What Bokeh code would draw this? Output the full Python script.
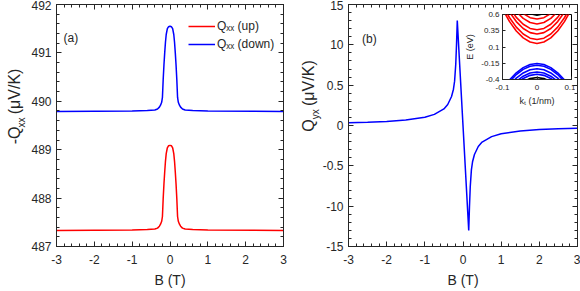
import math
from bokeh.plotting import figure
from bokeh.models import (Range1d, LinearAxis, Label, Legend, LegendItem,
                          FixedTicker, SingleIntervalTicker)
from bokeh.core.properties import value
from bokeh.layouts import row
from bokeh.embed import file_html
from bokeh.resources import INLINE

# ---------------- data ----------------
# panel (a): longitudinal coefficient vs B
B_xx = [-3.0, -1.0, -0.6, -0.4, -0.33, -0.28, -0.25, -0.22, -0.2, -0.18, -0.16,
        -0.14, -0.12, -0.1, -0.07, -0.04, 0.0, 0.04, 0.07, 0.1, 0.12, 0.14, 0.16,
        0.18, 0.2, 0.22, 0.25, 0.28, 0.33, 0.4, 0.6, 1.0, 3.0]
Q_down = [489.79, 489.80, 489.81, 489.82, 489.84, 489.88, 489.92, 489.98, 490.08,
          490.45, 490.75, 491.00, 491.22, 491.38, 491.50, 491.54, 491.55, 491.54,
          491.50, 491.38, 491.22, 491.00, 490.75, 490.45, 490.08, 489.98, 489.92,
          489.88, 489.84, 489.82, 489.81, 489.80, 489.79]
Q_up = [487.33, 487.34, 487.35, 487.36, 487.38, 487.42, 487.46, 487.52, 487.62,
        487.99, 488.29, 488.54, 488.76, 488.92, 489.04, 489.08, 489.09, 489.08,
        489.04, 488.92, 488.76, 488.54, 488.29, 487.99, 487.62, 487.52, 487.46,
        487.42, 487.38, 487.36, 487.35, 487.34, 487.33]
legend_labels = ["Q\u2093\u2093 (up)", "Q\u2093\u2093 (down)"]
B_ticks = [-3, -2, -1, 0, 1, 2, 3]
B_tick_labels = ["-3", "-2", "-1", "0", "1", "2", "3"]

# panel (b): transverse coefficient vs B
B_yx = [-3.0, -2.5, -2.0, -1.5, -1.0, -0.75, -0.5, -0.4, -0.3, -0.25, -0.22, -0.19,
        -0.17, -0.15, 0.0, 0.15, 0.17, 0.19, 0.22, 0.25, 0.3, 0.4, 0.5, 0.75, 1.0,
        1.5, 2.0, 2.5, 3.0]
Q_yx = [0.33, 0.40, 0.50, 0.68, 1.03, 1.38, 2.06, 2.6, 3.6, 4.5, 5.5, 7.6, 10.0,
        13.0, 0.0, -13.0, -10.0, -7.6, -5.5, -4.5, -3.6, -2.6, -2.06, -1.38, -1.03,
        -0.68, -0.50, -0.40, -0.33]
yx_ticks = [-15, -10, -5, 0, 5, 10, 15]
yx_tick_labels = ["-15", "-10", "-0.5", "0", "0.5", "10", "15"]

# inset: band structure E(k_t)
k_t = [-0.1, -0.08, -0.06, -0.04, -0.02, 0.0, 0.02, 0.04, 0.06, 0.08, 0.1]
cb1 = [0.685, 0.494, 0.346, 0.240, 0.176, 0.155, 0.176, 0.240, 0.346, 0.494, 0.685]
cb2 = [0.745, 0.554, 0.406, 0.300, 0.236, 0.215, 0.236, 0.300, 0.406, 0.554, 0.745]
cb3 = [0.830, 0.639, 0.491, 0.385, 0.321, 0.300, 0.321, 0.385, 0.491, 0.639, 0.830]
cb4 = [0.895, 0.704, 0.556, 0.450, 0.386, 0.365, 0.386, 0.450, 0.556, 0.704, 0.895]
cb5 = [0.985, 0.794, 0.646, 0.540, 0.476, 0.455, 0.476, 0.540, 0.646, 0.794, 0.985]
cb6 = [1.060, 0.869, 0.721, 0.615, 0.551, 0.530, 0.551, 0.615, 0.721, 0.869, 1.060]
cb_black = [1.120, 0.929, 0.781, 0.675, 0.611, 0.590, 0.611, 0.675, 0.781, 0.929, 1.120]
vb1 = [-0.553, -0.409, -0.297, -0.217, -0.169, -0.153, -0.169, -0.217, -0.297, -0.409, -0.553]
vb2 = [-0.580, -0.436, -0.324, -0.244, -0.196, -0.180, -0.196, -0.244, -0.324, -0.436, -0.580]
vb3 = [-0.635, -0.491, -0.379, -0.299, -0.251, -0.235, -0.251, -0.299, -0.379, -0.491, -0.635]
vb4 = [-0.685, -0.541, -0.429, -0.349, -0.301, -0.285, -0.301, -0.349, -0.429, -0.541, -0.685]
vb5 = [-0.720, -0.576, -0.464, -0.384, -0.336, -0.320, -0.336, -0.384, -0.464, -0.576, -0.720]
vb_black = [-0.770, -0.626, -0.514, -0.434, -0.386, -0.370, -0.386, -0.434, -0.514, -0.626, -0.770]
inset_xticks = [-0.1, 0.0, 0.1]
inset_xlabels = ["-0.1", "0", "0.1"]
inset_yticks = [-0.4, -0.15, 0.1, 0.35, 0.6]
inset_ylabels = ["-0.4", "-0.15", "0.1", "0.35", "0.6"]

# y-axis titles split into (text, font size) pieces: main / subscript / unit
ylabel_a = [("-Q", "16px"), ("xx", "10px"), ("(\u03bcV/K)", "16px")]
ylabel_b = [("Q", "16px"), ("yx", "10px"), ("(\u03bcV/K)", "16px")]

# ---------------- style helpers ----------------
FONT = "Liberation Sans"
TXT = "#262626"
AX = "#262626"
H = 291


def style_axis(ax, size="12px", standoff=5):
    ax.axis_line_color = AX
    ax.major_tick_line_color = AX
    ax.minor_tick_line_color = AX
    ax.major_tick_in = 5
    ax.major_tick_out = 0
    ax.minor_tick_in = 3
    ax.minor_tick_out = 0
    ax.major_label_text_font = FONT
    ax.major_label_text_font_size = size
    ax.major_label_text_color = TXT
    ax.major_label_standoff = standoff
    ax.axis_label_text_font = FONT
    ax.axis_label_text_font_style = "normal"
    ax.axis_label_text_color = TXT


def mirror_axes(p, xticker, yticker):
    top = LinearAxis(ticker=xticker)
    right = LinearAxis(ticker=yticker)
    for ax in (top, right):
        style_axis(ax, standoff=0)
        ax.major_label_text_color = None
    p.add_layout(top, "above")
    p.add_layout(right, "right")


def base_fig(xr, yr, left, right):
    p = figure(width=290, height=H, x_range=xr, y_range=yr,
               output_backend="svg", toolbar_location=None,
               min_border_left=left, min_border_right=right,
               min_border_top=4, min_border_bottom=45,
               background_fill_color="white", border_fill_color="white",
               outline_line_color=AX)
    p.xgrid.visible = False
    p.ygrid.visible = False
    return p


def title_strip(width, pieces, xs, ys, margin):
    """Transparent strip holding a rotated y-axis title with a subscript."""
    s = figure(width=width, height=H, x_range=Range1d(0, width),
               y_range=Range1d(H, 0), output_backend="svg",
               toolbar_location=None, x_axis_type=None, y_axis_type=None,
               min_border_left=0, min_border_right=0, min_border_top=0,
               min_border_bottom=0, background_fill_color=None,
               border_fill_color=None, outline_line_color=None, margin=margin)
    s.xgrid.visible = False
    s.ygrid.visible = False
    for (text, size), x, y in zip(pieces, xs, ys):
        s.text(x=[x], y=[y], text=[text], angle=math.pi / 2,
               text_align="left", text_baseline="alphabetic",
               text_font=value(FONT), text_font_size=value(size),
               text_color=TXT)
    return s


# ---------------- panel (a) ----------------
p1 = base_fig(Range1d(-3, 3), Range1d(487, 492), 56, 7)
xt1 = SingleIntervalTicker(interval=1, num_minor_ticks=5)
yt1 = SingleIntervalTicker(interval=1, num_minor_ticks=5)
p1.xaxis[0].ticker = xt1
p1.yaxis[0].ticker = yt1
p1.xaxis[0].major_label_overrides = dict(zip(B_ticks, B_tick_labels))
style_axis(p1.xaxis[0], standoff=8)
style_axis(p1.yaxis[0], standoff=5)
p1.xaxis[0].axis_label = "B (T)"
p1.xaxis[0].axis_label_text_font_size = "14px"
p1.xaxis[0].axis_label_standoff = 5
mirror_axes(p1, xt1, yt1)

r_up = p1.line(B_xx, Q_up, line_color="red", line_width=1.5)
r_dn = p1.line(B_xx, Q_down, line_color="blue", line_width=1.5)
leg = Legend(items=[LegendItem(label=legend_labels[0], renderers=[r_up]),
                    LegendItem(label=legend_labels[1], renderers=[r_dn])],
             location=(132, 195), padding=0, margin=0, spacing=4,
             glyph_width=27, glyph_height=14, label_height=14, label_standoff=2,
             label_text_font=FONT, label_text_font_size="12px",
             label_text_color=TXT, border_line_color=None,
             background_fill_alpha=0)
p1.add_layout(leg)
p1.add_layout(Label(x=-3, y=492, x_offset=7, y_offset=-33, text="(a)",
                    text_font=FONT, text_font_size="12px", text_color=TXT,
                    text_baseline="alphabetic"))

# ---------------- panel (b) ----------------
p2 = base_fig(Range1d(-3, 3), Range1d(-15, 15), 58, 3)
xt2 = SingleIntervalTicker(interval=1, num_minor_ticks=5)
yt2 = SingleIntervalTicker(interval=5, num_minor_ticks=5)
p2.xaxis[0].ticker = xt2
p2.yaxis[0].ticker = yt2
p2.xaxis[0].major_label_overrides = dict(zip(B_ticks, B_tick_labels))
p2.yaxis[0].major_label_overrides = dict(zip(yx_ticks, yx_tick_labels))
style_axis(p2.xaxis[0], standoff=8)
style_axis(p2.yaxis[0], standoff=5)
p2.xaxis[0].axis_label = "B (T)"
p2.xaxis[0].axis_label_text_font_size = "14px"
p2.xaxis[0].axis_label_standoff = 5
mirror_axes(p2, xt2, yt2)
p2.line(B_yx, Q_yx, line_color="blue", line_width=1.5)
p2.add_layout(Label(x=-3, y=15, x_offset=13.5, y_offset=-34, text="(b)",
                    text_font=FONT, text_font_size="12px", text_color=TXT,
                    text_baseline="alphabetic"))

# ---------------- y-axis titles (overlay strips) ----------------
# strip a spans x=0..56, strip b x=290..348 (row flow after p2 ends at 580)
ta = title_strip(56, ylabel_a, [14, 21, 14], [168, 148, 132], (0, 0, 0, -580))
tb = title_strip(58, ylabel_b, [18, 25, 18], [153, 138, 122], (0, 0, 0, 234))

# ---------------- inset ----------------
p3 = figure(width=113, height=114, x_range=Range1d(-0.1, 0.1),
            y_range=Range1d(-0.4, 0.6), output_backend="svg",
            toolbar_location=None, min_border_left=34, min_border_right=4,
            min_border_top=2, min_border_bottom=31,
            background_fill_color="white", border_fill_color=None,
            outline_line_color="black", margin=(10, 0, 0, 462 - 348))
p3.xgrid.visible = False
p3.ygrid.visible = False
p3.xaxis[0].ticker = FixedTicker(ticks=inset_xticks)
p3.yaxis[0].ticker = FixedTicker(ticks=inset_yticks)
p3.xaxis[0].major_label_overrides = dict(zip(inset_xticks, inset_xlabels))
p3.yaxis[0].major_label_overrides = dict(zip(inset_yticks, inset_ylabels))
for ax in (p3.xaxis[0], p3.yaxis[0]):
    style_axis(ax, size="8px", standoff=3)
    ax.major_tick_in = 3
    ax.axis_label_text_font_size = "9px"
    ax.axis_label_standoff = 3
p3.xaxis[0].major_label_standoff = 5
p3.xaxis[0].axis_label = "k\u209c (1/nm)"
p3.yaxis[0].axis_label = "E (eV)"
for band in (cb1, cb2, cb3, cb4, cb5, cb6):
    p3.line(k_t, band, line_color="red", line_width=1.6)
for band in (vb1, vb2, vb3, vb4, vb5):
    p3.line(k_t, band, line_color="blue", line_width=1.6)
p3.line(k_t, cb_black, line_color="black", line_width=1.6)
p3.line(k_t, vb_black, line_color="black", line_width=1.6)

root = row(p1, p2, ta, tb, p3)
p = root
open("out.html", "w").write(file_html(p, INLINE))
